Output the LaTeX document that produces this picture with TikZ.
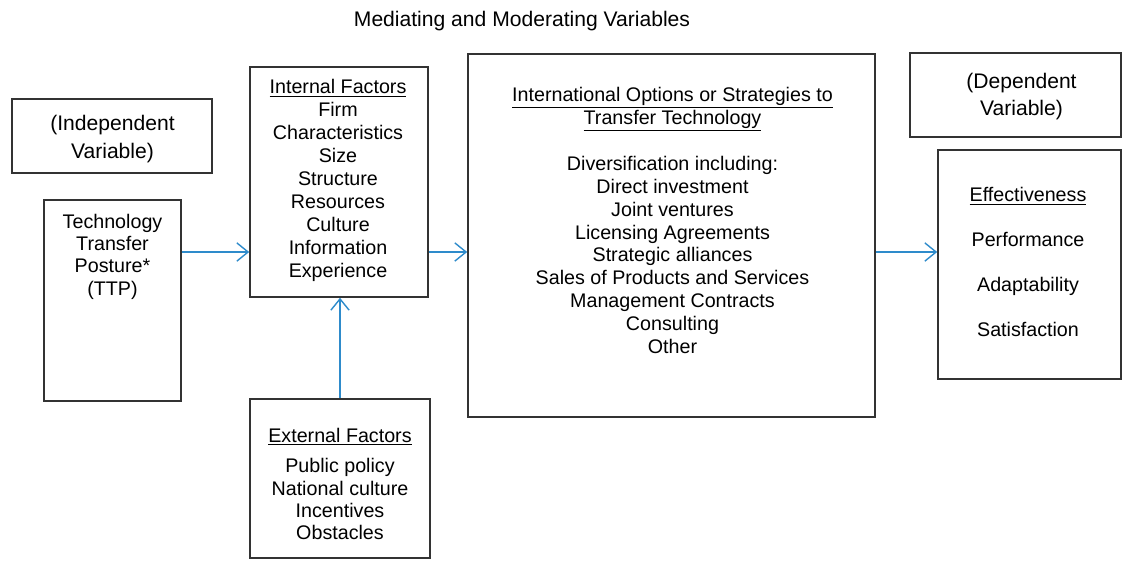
\documentclass[tikz,border=0pt]{standalone}
\usepackage{fontspec}
\setmainfont{Liberation Sans}
\usetikzlibrary{arrows.meta}
\definecolor{linkblue}{RGB}{46,139,203}

\begin{document}
\begin{tikzpicture}[x=0.025cm, y=-0.025cm, font=\fontsize{14}{16.3}\selectfont,
	box/.style={draw=black!80, line width=1.1pt, inner sep=0pt},
	lbl/.style={align=center, inner sep=0pt},
	big/.style={font=\fontsize{15}{19.8}\selectfont},
	link/.style={draw=linkblue, line width=1pt, -{Straight Barb[length=8pt, width=13pt, line width=1pt]}}]
	\useasboundingbox (0, 0) rectangle (1123, 560);
	
	% Tieu de
	\node[lbl, big] (title) at (522, 21) {Mediating and Moderating Variables};
	\coordinate (row) at (0, 252);
	
	% Bien doc lap
	\node[box, minimum width=5cm, minimum height=1.85cm] (indep) at (112, 136) {};
	\node[lbl, big] (indeptxt) at (112.5, 139) {(Independent\\Variable)};
	\node[box, minimum width=3.425cm, minimum height=5.025cm] (ttp) at (112.5, 300.5) {};
	\node[lbl, font=\fontsize{14}{15.9}\selectfont] (ttptxt) at (112.5, 256.5) {Technology\\Transfer\\Posture*\\(TTP)};
	
	% Yeu to ben trong / ben ngoai
	\node[box, minimum width=4.45cm, minimum height=5.75cm] (int) at (339, 182) {};
	\node[lbl] (inttxt) at (338, 180.5) {\underline{Internal Factors}\\Firm\\Characteristics\\Size\\Structure\\Resources\\Culture\\Information\\Experience};
	\node[box, minimum width=4.5cm, minimum height=3.975cm] (ext) at (340, 478.5) {};
	\node[lbl, font=\fontsize{14}{15.9}\selectfont] (exttxt) at (340, 484) {\underline{External Factors}\\[6pt]Public policy\\National culture\\Incentives\\Obstacles};
	
	% Chien luoc
	\node[box, minimum width=10.175cm, minimum height=9.075cm] (mid) at (671.5, 235.5) {};
	\node[lbl] (midtxt) at (672.5, 220.5) {\underline{International Options or Strategies to}\\\underline{Transfer Technology}\\[16.3pt]Diversification including:\\Direct investment\\Joint ventures\\Licensing Agreements\\Strategic alliances\\Sales of Products and Services\\Management Contracts\\Consulting\\Other};
	
	% Bien phu thuoc
	\node[box, minimum width=5.275cm, minimum height=2.1cm] (dep) at (1015.5, 95) {};
	\node[lbl, big] (deptxt) at (1021.5, 96.5) {(Dependent\\Variable)};
	\node[box, minimum width=4.575cm, minimum height=5.725cm] (eff) at (1029.5, 264.5) {};
	\node[lbl, font=\fontsize{14}{15.9}\selectfont] (efftxt) at (1028, 262) {\underline{Effectiveness}\\[16pt]Performance\\[16pt]Adaptability\\[16pt]Satisfaction};
	
	% Mui ten
	\draw[link] (ttp.east |- row) -- (int.west |- row);
	\draw[link] (int.east |- row) -- (mid.west |- row);
	\draw[link] (mid.east |- row) -- (eff.west |- row);
	\draw[link] (ext.north) -- (ext.north |- int.south);
\end{tikzpicture}
\end{document}
